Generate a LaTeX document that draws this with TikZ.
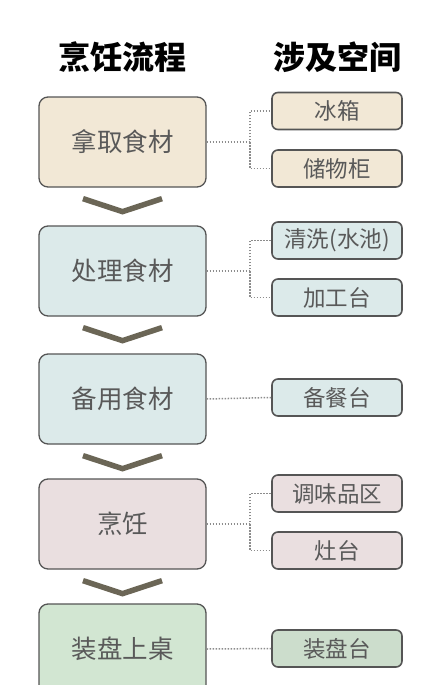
\documentclass[tikz,border=0pt]{standalone}
\usepackage{fontspec}
\setmainfont{Noto Sans CJK SC}
\usepackage{tikz}
\definecolor{takefill}{HTML}{F2E8D6}
\definecolor{prepfill}{HTML}{DCEAEA}
\definecolor{cookfill}{HTML}{EADFE0}
\definecolor{servefill}{HTML}{D2E6D2}
\definecolor{platefill}{HTML}{CCDDCC}
\definecolor{edgegray}{HTML}{555555}
\definecolor{chevgray}{HTML}{6B6656}
\tikzset{proc box/.style = {draw=edgegray, line width=1.3pt, rounded corners=9pt,
  minimum width=167pt, minimum height=90pt, inner sep=0pt,
  font=\fontsize{25.5}{25.5}\selectfont, text=black!65},
  space box/.style = {draw=edgegray, line width=1.6pt, rounded corners=6pt,
  minimum width=130pt, minimum height=37pt, inner sep=0pt,
  font=\fontsize{22.5}{22.5}\selectfont, text=black!65},
  head/.style = {font=\fontsize{32}{32}\selectfont\bfseries},
  link/.style = {draw=gray!90, line width=1.5pt, dash pattern=on 1.5pt off 1.5pt},
  chevron/.style = {draw=chevgray, line width=5.5pt, line cap=butt, line join=miter}
}

\begin{document}
\begin{tikzpicture}[x=1pt,y=-1pt]
        \useasboundingbox[fill=white] (0,0) rectangle (442,685);
        \path (122.5,57) node[head] (h1) {烹饪流程}
        (337,57) node[head] (h2) {涉及空间};
        % cooking steps
        \path (122.5,142) node[proc box, fill=takefill] (take) {拿取食材}
        (122.5,271) node[proc box, fill=prepfill] (prep) {处理食材}
        (122.5,399) node[proc box, fill=prepfill] (ready) {备用食材}
        (122.5,524) node[proc box, fill=cookfill] (cook) {烹饪}
        (122.5,649) node[proc box, fill=servefill] (serve) {装盘上桌};
        % spaces
        \path (337,111) node[space box, fill=takefill] (fridge) {冰箱}
        (337,168.5) node[space box, fill=takefill] (cabinet) {储物柜}
        (337,240.5) node[space box, fill=prepfill] (sink) {清洗(水池)}
        (337,297.5) node[space box, fill=prepfill] (worktop) {加工台}
        (337,397.5) node[space box, fill=prepfill] (counter) {备餐台}
        (337,493.5) node[space box, fill=cookfill] (spice) {调味品区}
        (337,550.5) node[space box, fill=cookfill] (stove) {灶台}
        (337,648.5) node[space box, fill=platefill] (plate) {装盘台};
        \coordinate (j1) at (250,142);
        \coordinate (j2) at (250,271);
        \coordinate (j4) at (250,524);
        \draw[link] (take) -- (j1) |- (fridge);
        \draw[link] (j1) |- (cabinet);
        \draw[link] (prep) -- (j2) |- (sink);
        \draw[link] (j2) |- (worktop);
        \draw[link] (ready.east) -- (counter.west);
        \draw[link] (cook) -- (j4) |- (spice);
        \draw[link] (j4) |- (stove);
        \draw[link] (serve.east) -- (plate.west);
        % chevrons between steps
        \foreach \n in {take,prep,ready,cook}
            \draw[chevron] ([xshift=-39.5pt,yshift=-11pt]\n.south) -- ++(39.5,13) -- ++(39.5,-13);
        \end{tikzpicture}
\end{document}
